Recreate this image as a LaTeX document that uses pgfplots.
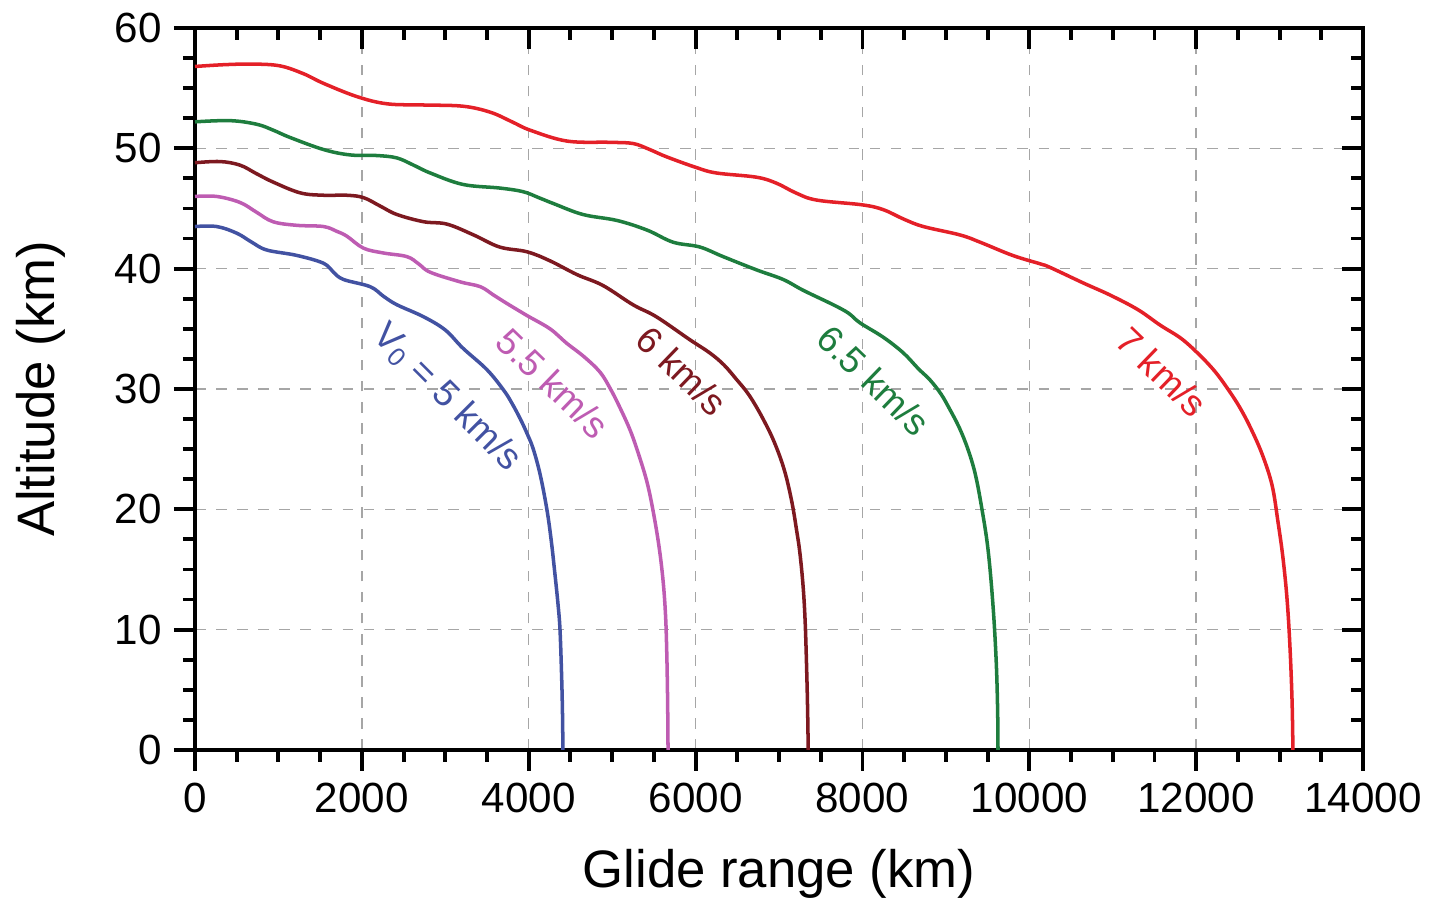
\documentclass[border=0pt]{standalone}
\usepackage{fontspec}
\setmainfont{Liberation Sans}
\usepackage{pgfplots}
\pgfplotsset{compat=1.18}
\definecolor{cred}{RGB}{228,32,40}
\definecolor{cgreen}{RGB}{30,125,62}
\definecolor{cdred}{RGB}{125,25,32}
\definecolor{cpink}{RGB}{190,92,178}
\definecolor{cblue}{RGB}{66,82,162}
\begin{document}
\begin{tikzpicture}
\pgfplotsset{
  common/.style={
    scale only axis, width=116.8mm, height=72.2mm,
    xmin=0, xmax=14000, ymin=0, ymax=60,
    xtick={0,2000,...,14000}, ytick={0,10,...,60},
    scaled ticks=false,
    minor x tick num=3, minor y tick num=3,
    major tick length=2.1mm, minor tick length=1.2mm,
    every tick/.style={black, line width=1.1pt},
  }
}
\begin{axis}[common,
  name=main,
  axis line style={line width=1.4pt},
  tick align=outside,
  xtick pos=left, ytick pos=left,
  grid=major,
  major grid style={gray!70, dashed, line width=0.4pt},
  /pgf/number format/assume math mode=true,
  /pgf/number format/1000 sep={},
  ticklabel style={font=\fontsize{12}{14}\selectfont},
  xlabel={Glide range (km)}, ylabel={Altitude (km)},
  xlabel style={font=\fontsize{15}{18}\selectfont, yshift=-1.2mm},
  ylabel style={font=\fontsize{15}{18}\selectfont, yshift=2.5mm},
  every axis plot/.append style={line width=1pt, smooth, tension=0.6},
]
% v0 = 7 km/s
\addplot[cred] coordinates {
(0,56.8) (350,56.95) (700,57.0) (1020,56.85) (1300,56.2) (1540,55.4) (1940,54.3) (2300,53.7)
(2740,53.6) (3210,53.5) (3540,53.0) (3800,52.2) (4020,51.5) (4460,50.6) (4970,50.5) (5250,50.4)
(5450,49.9) (5650,49.3) (6010,48.4) (6250,47.95) (6730,47.6) (6970,47.1) (7200,46.3) (7450,45.7) (8000,45.3)
(8250,44.9) (8500,44.1) (8730,43.5) (9170,42.8) (9410,42.2) (9800,41.1) (10130,40.4) (10250,40.1)
(10650,38.8) (10970,37.8) (11300,36.6) (11570,35.3) (11820,34.2) (12030,32.9) (12220,31.5) (12380,30.0) (12520,28.5) (12650,26.8)
(12790,24.6) (12910,22.0) (12980,19.0) (13040,16.0) (13090,12.5) (13125,8.5) (13150,4.0) (13160,0)
};
% 6.5 km/s
\addplot[cgreen] coordinates {
(0,52.2) (420,52.3) (740,52.0) (940,51.5) (1140,50.9) (1540,49.9) (1860,49.45) (2180,49.4)
(2420,49.2) (2620,48.6) (2820,47.95) (3210,47.0) (3650,46.7) (3930,46.4) (4120,45.9) (4300,45.4) (4650,44.5)
(5060,44.0) (5420,43.2) (5730,42.2) (6050,41.8) (6330,41.0) (6730,39.9) (7050,39.1)
(7290,38.2) (7650,37.0) (7833,36.3) (7970,35.5) (8250,34.3) (8490,33.0) (8668,31.7)
(8810,30.75) (8940,29.6) (9040,28.4) (9160,26.8) (9264,25.0) (9350,23.0) (9423,20.4) (9503,16.8) (9563,12.2) (9602,7.6)
(9620,3.5) (9625,0)
};
% 6 km/s
\addplot[cdred] coordinates {
(0,48.8) (300,48.9) (540,48.6) (735,47.9) (935,47.2) (1260,46.3) (1540,46.1) (1820,46.1)
(2020,45.9) (2220,45.2) (2420,44.5) (2740,43.9) (3020,43.7) (3340,42.8) (3650,41.8) (3980,41.4)
(4255,40.65) (4580,39.5) (4890,38.6) (5250,37.0) (5530,36.0) (5930,34.1) (6170,33.0)
(6340,32.0) (6490,30.8) (6620,29.7) (6730,28.5) (6840,27.1) (6930,25.8) (7020,24.2) (7090,22.6) (7160,20.4) (7210,18.3) (7250,16.4) (7290,13.5) (7315,10.4)
(7335,5.8) (7345,2.5) (7350,0)
};
% 5.5 km/s
\addplot[cpink] coordinates {
(0,46.0) (260,46.0) (540,45.5) (735,44.7) (935,43.9) (1220,43.6) (1540,43.5) (1700,43.1) (1820,42.7)
(2020,41.7) (2260,41.3) (2540,41.0) (2680,40.4) (2820,39.7) (3180,38.9) (3420,38.5) (3580,37.8) (3740,37.1)
(3980,36.1) (4255,35.0) (4455,33.8) (4660,32.7) (4855,31.4) (4980,30.0) (5090,28.5) (5220,26.5) (5330,24.3) (5420,22.2) (5490,19.9) (5560,17.0)
(5610,14.1) (5640,11.2) (5655,8.0) (5665,4.0) (5670,0)
};
% 5 km/s
\addplot[cblue] coordinates {
(0,43.5) (260,43.5) (500,42.95) (680,42.2) (860,41.55) (1220,41.1) (1540,40.45) (1660,39.7) (1780,39.1)
(2100,38.5) (2260,37.7) (2420,37.0) (2740,36.0) (3000,34.9) (3210,33.4) (3500,31.6) (3700,29.9)
(3800,28.8) (3900,27.5) (3980,26.3) (4055,25.0) (4140,22.8) (4220,19.9) (4270,17.4) (4310,14.9) (4350,12.2) (4375,10.0) (4395,6.0) (4405,3.0) (4410,0)
};
\node[text=cblue, rotate=-45, font=\fontsize{10.5}{12}\selectfont] at (axis cs:3020,29.3) {V\textsubscript{0} = 5 km/s};
\node[text=cpink, rotate=-44, font=\fontsize{10.5}{12}\selectfont] at (axis cs:4290,30.5) {5.5 km/s};
\node[text=cdred, rotate=-44, font=\fontsize{10.5}{12}\selectfont] at (axis cs:5840,31.5) {6 km/s};
\node[text=cgreen, rotate=-44, font=\fontsize{10.5}{12}\selectfont] at (axis cs:8140,30.7) {6.5 km/s};
\node[text=cred, rotate=-44, font=\fontsize{10.5}{12}\selectfont] at (axis cs:11590,31.4) {7 km/s};
\end{axis}
\begin{axis}[common,
  axis line style={draw=none},
  tick align=inside,
  xtick pos=right, ytick pos=right,
  xticklabels={}, yticklabels={},
]
\end{axis}
\pgfresetboundingbox
\path[use as bounding box] ([xshift=-19.5mm,yshift=-15.5mm]main.south west) rectangle ([xshift=6.6mm,yshift=2.8mm]main.north east);
\end{tikzpicture}
\end{document}
